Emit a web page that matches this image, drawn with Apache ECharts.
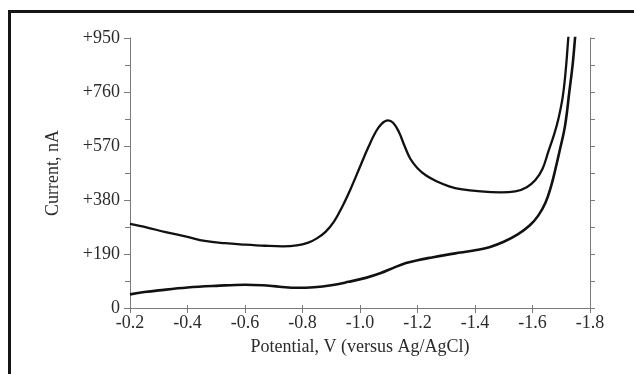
<!DOCTYPE html>
<html>
<head>
<meta charset="utf-8">
<style>
  html, body { margin: 0; padding: 0; background: #fff; }
  #chart { width: 634px; height: 374px; }
</style>
<script src="https://cdn.jsdelivr.net/npm/echarts@6/dist/echarts.min.js"></script>
</head>
<body>
<div id="chart"></div>
<script>
// potential (V vs Ag/AgCl) and current (nA)
var upperV = [-0.2, -0.26, -0.32, -0.4, -0.46, -0.53, -0.6, -0.67, -0.73, -0.78, -0.82, -0.85, -0.88, -0.91, -0.94, -0.97, -1.0, -1.03, -1.055, -1.075, -1.097, -1.115, -1.135, -1.155, -1.175, -1.2, -1.23, -1.27, -1.31, -1.35, -1.42, -1.49, -1.54, -1.58, -1.61, -1.635, -1.655, -1.675, -1.69, -1.705, -1.715, -1.7245, -1.73];
var upperI = [296, 283, 268, 250, 236, 228, 223, 219, 217, 220, 230, 245, 268, 305, 360, 425, 497, 568, 620, 648, 660, 652, 620, 570, 525, 492, 466, 444, 428, 418, 410, 407, 410, 425, 450, 490, 550, 610, 665, 742, 830, 950, 1020];

var lowerV = [-0.2, -0.25, -0.3, -0.4, -0.5, -0.6, -0.66, -0.72, -0.78, -0.84, -0.9, -0.96, -1.02, -1.07, -1.12, -1.16, -1.2, -1.25, -1.3, -1.35, -1.4, -1.45, -1.5, -1.55, -1.59, -1.62, -1.645, -1.665, -1.68, -1.695, -1.713, -1.728, -1.74, -1.748, -1.755];
var lowerI = [48, 56, 62, 72, 78, 82, 80, 75, 71, 73, 80, 92, 106, 122, 143, 158, 168, 178, 187, 195, 203, 214, 233, 260, 290, 325, 370, 430, 490, 556, 640, 760, 860, 950, 1030];

var xTicks = [-1.8, -0.2, 0.2];   // min, max, step
var yTicks = [0, 950, 190];

function pairs(xs, ys) {
  return xs.map(function (x, i) { return [x, ys[i]]; });
}

var chart = echarts.init(document.getElementById('chart'));

var font = 'Liberation Serif';
var txt = '#2b2b2b';
var axisCol = '#7a7a7a';

var option = {
  animation: false,
  grid: { left: 130, right: 44, top: 38, bottom: 66 },
  graphic: [{
    type: 'rect',
    shape: { x: 9.5, y: 11.5, width: 700, height: 500 },
    style: { fill: 'none', stroke: '#161616', lineWidth: 3 }
  }],
  xAxis: [{
    type: 'value',
    inverse: true,
    min: xTicks[0], max: xTicks[1], interval: xTicks[2],
    name: 'Potential, V (versus Ag/AgCl)',
    nameLocation: 'middle',
    nameGap: 30,
    nameTextStyle: { fontFamily: font, fontSize: 18, color: txt },
    axisLine: { lineStyle: { color: axisCol, width: 1 } },
    axisTick: { length: 5, lineStyle: { color: axisCol } },
    axisLabel: {
      margin: 6, fontFamily: font, fontSize: 18, color: txt,
      formatter: function (v) { return v.toFixed(1); }
    },
    splitLine: { show: false }
  }, {
    type: 'value',
    position: 'top',
    inverse: true,
    min: xTicks[0], max: xTicks[1], interval: xTicks[2],
    axisLine: { lineStyle: { color: axisCol, width: 1 } },
    axisTick: { length: 3, lineStyle: { color: axisCol } },
    axisLabel: { show: false },
    splitLine: { show: false }
  }],
  yAxis: [{
    type: 'value',
    min: yTicks[0], max: yTicks[1], interval: yTicks[2],
    name: 'Current, nA',
    nameLocation: 'middle',
    nameGap: 68,
    nameTextStyle: { fontFamily: font, fontSize: 18, color: txt },
    axisLine: { show: true, lineStyle: { color: axisCol, width: 1 } },
    axisTick: { show: true, length: 6, lineStyle: { color: axisCol } },
    minorTick: { show: true, splitNumber: 2, length: 5, lineStyle: { color: axisCol } },
    axisLabel: {
      margin: 10, fontFamily: font, fontSize: 18, color: txt,
      formatter: function (v) { return v === 0 ? '0' : '+' + v; }
    },
    splitLine: { show: false }
  }, {
    type: 'value',
    position: 'right',
    min: yTicks[0], max: yTicks[1], interval: yTicks[2] / 2,
    axisLine: { show: true, lineStyle: { color: axisCol, width: 1 } },
    axisTick: { show: true, length: 5, lineStyle: { color: axisCol } },
    axisLabel: { show: false },
    splitLine: { show: false }
  }],
  series: [{
    name: 'upper',
    type: 'line',
    data: pairs(upperV, upperI),
    showSymbol: false,
    smooth: 0.4,
    clip: true,
    lineStyle: { color: '#111', width: 2.3 }
  }, {
    name: 'lower',
    type: 'line',
    data: pairs(lowerV, lowerI),
    showSymbol: false,
    smooth: 0.4,
    clip: true,
    lineStyle: { color: '#111', width: 2.6 }
  }]
};

chart.setOption(option);
</script>
</body>
</html>
